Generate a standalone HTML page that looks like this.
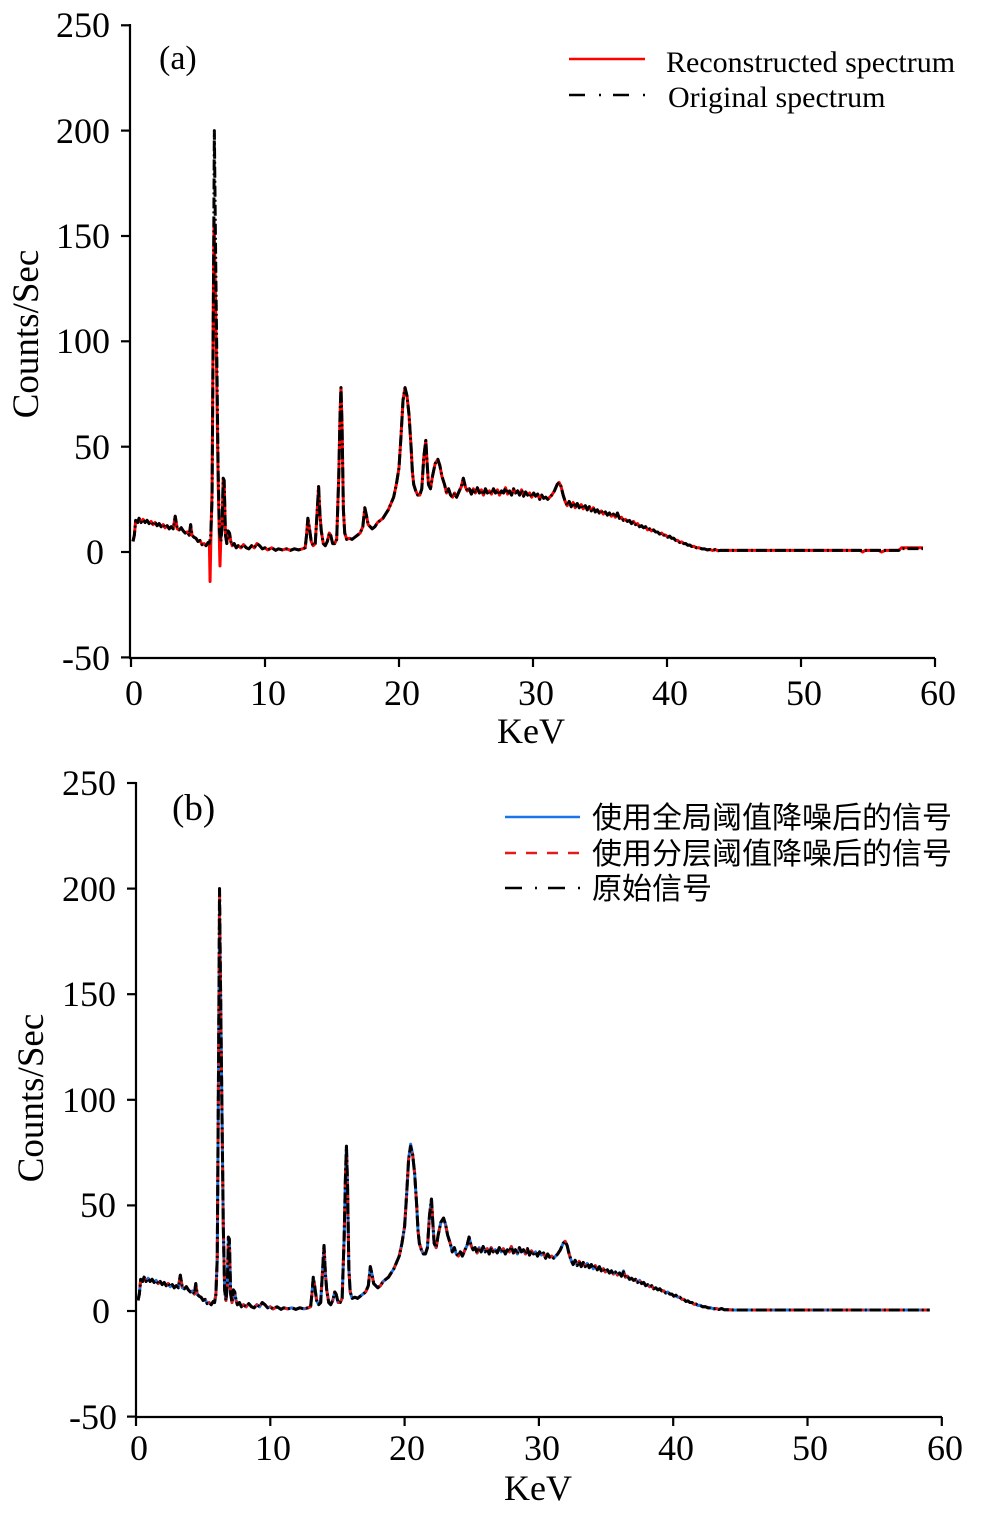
<!DOCTYPE html>
<html>
<head>
<meta charset="utf-8">
<style>
html,body{margin:0;padding:0;background:#fff;}
svg{display:block;}
text{font-family:"Liberation Serif","Noto Serif CJK SC",serif;fill:#000;}
.cjk{font-family:"Liberation Sans","Noto Sans CJK SC",sans-serif;}
.d{fill:none;vector-effect:non-scaling-stroke;stroke-linejoin:round;stroke-width:3;}
</style>
</head>
<body>
<svg width="1000" height="1520" viewBox="0 0 1000 1520" xmlns="http://www.w3.org/2000/svg">
<rect width="1000" height="1520" fill="#fff"/>

<!-- ================= Panel (a) ================= -->
<g stroke="#000" stroke-width="2.2" fill="none">
  <line x1="130" y1="24" x2="130" y2="658"/>
  <line x1="129" y1="658" x2="935" y2="658"/>
  <line x1="121" y1="25.3" x2="130" y2="25.3"/>
  <line x1="121" y1="130.6" x2="130" y2="130.6"/>
  <line x1="121" y1="236" x2="130" y2="236"/>
  <line x1="121" y1="341.3" x2="130" y2="341.3"/>
  <line x1="121" y1="446.7" x2="130" y2="446.7"/>
  <line x1="121" y1="552" x2="130" y2="552"/>
  <line x1="121" y1="657.4" x2="130" y2="657.4"/>
  <line x1="131" y1="658" x2="131" y2="667"/>
  <line x1="265" y1="658" x2="265" y2="667"/>
  <line x1="399" y1="658" x2="399" y2="667"/>
  <line x1="533" y1="658" x2="533" y2="667"/>
  <line x1="667" y1="658" x2="667" y2="667"/>
  <line x1="801" y1="658" x2="801" y2="667"/>
  <line x1="935" y1="658" x2="935" y2="667"/>
</g>
<g font-size="36" text-anchor="end">
  <text x="110" y="37">250</text>
  <text x="110" y="143">200</text>
  <text x="110" y="248">150</text>
  <text x="110" y="353">100</text>
  <text x="110" y="459">50</text>
  <text x="104" y="564">0</text>
  <text x="110" y="670">-50</text>
</g>
<g font-size="36" text-anchor="middle">
  <text x="134" y="705">0</text>
  <text x="268" y="705">10</text>
  <text x="402" y="705">20</text>
  <text x="536" y="705">30</text>
  <text x="670" y="705">40</text>
  <text x="804" y="705">50</text>
  <text x="938" y="705">60</text>
  <text x="531" y="743">KeV</text>
</g>
<text font-size="37" text-anchor="middle" transform="translate(38,334) rotate(-90)">Counts/Sec</text>
<text font-size="34" x="159" y="69">(a)</text>

<!-- legend a -->
<line x1="569" y1="59" x2="645" y2="59" stroke="#ff0000" stroke-width="2.6"/>
<line x1="569" y1="95" x2="645" y2="95" stroke="#000" stroke-width="2.6" stroke-dasharray="16 14 2 12"/>
<text font-size="30" x="666" y="72">Reconstructed spectrum</text>
<text font-size="30" x="668" y="107">Original spectrum</text>

<!-- data a -->
<g transform="translate(131,552) scale(13.4,-2.107)">
<polyline class="d" stroke="#ff0000" points="0.15,5 0.25,8 0.35,15 0.5,14 0.6,16 0.75,14 0.9,15.5 1.05,14 1.2,15 1.35,13.5 1.5,14.5 1.65,13 1.8,14 1.95,12.5 2.1,13.5 2.25,12 2.4,13 2.55,11.5 2.7,12.5 2.85,11 3,12 3.15,11 3.3,17 3.45,11 3.6,10.5 3.75,11.5 3.9,10 4.05,9 4.2,9.5 4.35,8 4.45,13 4.55,8 4.7,7 4.85,6.5 5,5 5.15,5.5 5.3,3.5 5.45,4 5.6,3 5.75,4.5 5.85,4 5.9,-14 5.96,6 6.05,30 6.13,110 6.2,158 6.28,130 6.38,90 6.5,35 6.6,4 6.64,-6.6 6.7,6 6.8,12 6.88,35 6.95,34 7.05,8 7.15,4 7.25,10 7.35,9 7.45,5 7.55,3 7.7,4 7.85,2 8,3 8.2,2 8.4,3.5 8.6,2 8.8,1.5 9,3 9.2,2 9.4,4 9.6,3 9.8,1.5 10,2 10.2,1 10.5,2 10.8,0.8 11,1.5 11.3,1 11.6,1.5 11.9,0.8 12.2,1.5 12.5,1 12.8,1.5 13,2 13.1,8 13.2,16 13.3,12 13.45,5 13.6,3 13.75,4 13.9,20 14,31 14.1,18 14.2,10 14.35,4 14.5,3 14.65,5 14.8,9 14.9,8 15.05,4 15.2,4 15.35,6 15.5,35 15.6,65 15.67,78 15.75,60 15.85,20 15.95,9 16.1,6 16.3,6.5 16.5,6 16.7,7 16.9,8 17.1,9 17.3,12 17.45,21 17.55,18 17.7,13 17.85,12 18,11 18.2,12 18.4,14 18.6,15 18.8,16 19,18 19.2,20 19.4,23 19.6,26 19.8,32 20,40 20.15,55 20.3,72 20.45,78 20.6,74 20.75,65 20.9,50 21,38 21.1,32 21.25,29 21.4,27 21.55,27 21.7,30 21.85,45 22,53 22.1,42 22.2,32 22.35,30 22.5,36 22.7,42 22.9,44 23.05,41 23.2,36 23.4,32 23.55,28 23.7,30 23.85,27 24,26 24.15,28 24.3,26 24.5,29 24.65,31 24.8,35 24.95,31 25.1,29 25.25,30 25.4,27.5 25.55,30 25.7,28 25.85,30.5 26,28 26.15,29.5 26.3,27 26.45,30 26.6,28 26.75,29 26.9,27.5 27.05,30 27.2,28 27.35,29.5 27.5,27 27.65,29 27.8,28 27.95,30.5 28.1,27.5 28.25,29 28.4,27 28.55,30 28.7,28 28.85,29 29,27 29.15,29.5 29.3,26.5 29.45,28.5 29.6,27 29.75,28 29.9,26 30.05,28 30.2,26.5 30.35,27.5 30.5,25 30.65,27 30.8,25.5 30.95,26 31.1,25 31.25,26 31.4,27 31.6,29 31.8,32 31.95,33 32.1,31 32.25,27 32.4,24 32.55,22 32.7,24 32.85,21.5 33,23.5 33.15,21 33.3,23 33.45,21 33.6,22.5 33.75,20.5 33.9,22 34.05,20 34.2,21.5 34.35,19.5 34.5,21 34.65,19 34.8,20 34.95,18.5 35.1,19.5 35.25,18 35.4,19 35.55,17.5 35.7,18.5 35.85,17 36,18 36.15,16.5 36.3,18.5 36.45,16 36.6,16.5 36.75,15 36.9,15.5 37.05,14.5 37.2,15 37.35,13.5 37.5,14.5 37.65,13 37.8,13.5 37.95,12 38.1,12.5 38.25,11.5 38.4,12 38.55,10.5 38.7,11 38.85,10 39,10.5 39.15,9.5 39.3,9.5 39.45,8.5 39.6,9 39.75,8 39.9,8 40.05,7 40.2,7.5 40.35,6.5 40.5,6.5 40.65,5.5 40.8,5.5 40.95,4.5 41.1,4.8 41.25,4 41.4,4 41.55,3.2 41.7,3.3 41.85,2.6 42,2.7 42.2,2 42.4,2 42.6,1.5 42.8,1.5 43,1 43.2,1.2 43.4,0.7 43.6,1.2 43.8,0.6 44,0.8 44.5,0.8 54.4,0.8 54.6,0 54.8,0.8 55.8,0.8 56,0 56.3,0.8 57.3,0.8 57.5,2 59.1,2"/>
<polyline class="d" stroke="#000" stroke-dasharray="11 3 2 3" points="0.15,5 0.25,8 0.35,15 0.5,14 0.6,16 0.75,14 0.9,15.5 1.05,14 1.2,15 1.35,13.5 1.5,14.5 1.65,13 1.8,14 1.95,12.5 2.1,13.5 2.25,12 2.4,13 2.55,11.5 2.7,12.5 2.85,11 3,12 3.15,11 3.3,17 3.45,11 3.6,10.5 3.75,11.5 3.9,10 4.05,9 4.2,9.5 4.35,8 4.45,13 4.55,8 4.7,7 4.85,6.5 5,5 5.15,5.5 5.3,3.5 5.45,4 5.6,3 5.75,4.5 5.85,4 5.95,8 6.05,25 6.15,120 6.22,200 6.3,150 6.4,95 6.5,40 6.6,10 6.7,5 6.8,12 6.88,35 6.95,34 7.05,8 7.15,4 7.25,10 7.35,9 7.45,5 7.55,3 7.7,4 7.85,2 8,3 8.2,2 8.4,3.5 8.6,2 8.8,1.5 9,3 9.2,2 9.4,4 9.6,3 9.8,1.5 10,2 10.2,1 10.5,2 10.8,0.8 11,1.5 11.3,1 11.6,1.5 11.9,0.8 12.2,1.5 12.5,1 12.8,1.5 13,2 13.1,8 13.2,16 13.3,12 13.45,5 13.6,3 13.75,4 13.9,20 14,31 14.1,18 14.2,10 14.35,4 14.5,3 14.65,5 14.8,9 14.9,8 15.05,4 15.2,4 15.35,6 15.5,35 15.6,65 15.67,78 15.75,60 15.85,20 15.95,9 16.1,6 16.3,6.5 16.5,6 16.7,7 16.9,8 17.1,9 17.3,12 17.45,21 17.55,18 17.7,13 17.85,12 18,11 18.2,12 18.4,14 18.6,15 18.8,16 19,18 19.2,20 19.4,23 19.6,26 19.8,32 20,40 20.15,55 20.3,72 20.45,78 20.6,74 20.75,65 20.9,50 21,38 21.1,32 21.25,29 21.4,27 21.55,27 21.7,30 21.85,45 22,53 22.1,42 22.2,32 22.35,30 22.5,36 22.7,42 22.9,44 23.05,41 23.2,36 23.4,32 23.55,28 23.7,30 23.85,27 24,26 24.15,28 24.3,26 24.5,29 24.65,31 24.8,35 24.95,31 25.1,29 25.25,30 25.4,27.5 25.55,30 25.7,28 25.85,30.5 26,28 26.15,29.5 26.3,27 26.45,30 26.6,28 26.75,29 26.9,27.5 27.05,30 27.2,28 27.35,29.5 27.5,27 27.65,29 27.8,28 27.95,30.5 28.1,27.5 28.25,29 28.4,27 28.55,30 28.7,28 28.85,29 29,27 29.15,29.5 29.3,26.5 29.45,28.5 29.6,27 29.75,28 29.9,26 30.05,28 30.2,26.5 30.35,27.5 30.5,25 30.65,27 30.8,25.5 30.95,26 31.1,25 31.25,26 31.4,27 31.6,29 31.8,32 31.95,33 32.1,31 32.25,27 32.4,24 32.55,22 32.7,24 32.85,21.5 33,23.5 33.15,21 33.3,23 33.45,21 33.6,22.5 33.75,20.5 33.9,22 34.05,20 34.2,21.5 34.35,19.5 34.5,21 34.65,19 34.8,20 34.95,18.5 35.1,19.5 35.25,18 35.4,19 35.55,17.5 35.7,18.5 35.85,17 36,18 36.15,16.5 36.3,18.5 36.45,16 36.6,16.5 36.75,15 36.9,15.5 37.05,14.5 37.2,15 37.35,13.5 37.5,14.5 37.65,13 37.8,13.5 37.95,12 38.1,12.5 38.25,11.5 38.4,12 38.55,10.5 38.7,11 38.85,10 39,10.5 39.15,9.5 39.3,9.5 39.45,8.5 39.6,9 39.75,8 39.9,8 40.05,7 40.2,7.5 40.35,6.5 40.5,6.5 40.65,5.5 40.8,5.5 40.95,4.5 41.1,4.8 41.25,4 41.4,4 41.55,3.2 41.7,3.3 41.85,2.6 42,2.7 42.2,2 42.4,2 42.6,1.5 42.8,1.5 43,1 43.2,1.2 43.4,0.7 43.6,1.2 43.8,0.6 44,0.8 44.5,0.8 57.3,0.8 57.5,1.6 59.1,1.6"/>
</g>

<!-- ================= Panel (b) ================= -->
<g stroke="#000" stroke-width="2.2" fill="none">
  <line x1="136" y1="782" x2="136" y2="1417"/>
  <line x1="135" y1="1417" x2="942" y2="1417"/>
  <line x1="127" y1="783" x2="136" y2="783"/>
  <line x1="127" y1="888.6" x2="136" y2="888.6"/>
  <line x1="127" y1="994.2" x2="136" y2="994.2"/>
  <line x1="127" y1="1099.8" x2="136" y2="1099.8"/>
  <line x1="127" y1="1205.4" x2="136" y2="1205.4"/>
  <line x1="127" y1="1311" x2="136" y2="1311"/>
  <line x1="127" y1="1416.6" x2="136" y2="1416.6"/>
  <line x1="136" y1="1417" x2="136" y2="1426"/>
  <line x1="270.3" y1="1417" x2="270.3" y2="1426"/>
  <line x1="404.6" y1="1417" x2="404.6" y2="1426"/>
  <line x1="538.9" y1="1417" x2="538.9" y2="1426"/>
  <line x1="673.2" y1="1417" x2="673.2" y2="1426"/>
  <line x1="807.5" y1="1417" x2="807.5" y2="1426"/>
  <line x1="941.8" y1="1417" x2="941.8" y2="1426"/>
</g>
<g font-size="36" text-anchor="end">
  <text x="116" y="795">250</text>
  <text x="116" y="901">200</text>
  <text x="116" y="1006">150</text>
  <text x="116" y="1112">100</text>
  <text x="116" y="1217">50</text>
  <text x="110" y="1323">0</text>
  <text x="117" y="1429">-50</text>
</g>
<g font-size="36" text-anchor="middle">
  <text x="139" y="1460">0</text>
  <text x="273" y="1460">10</text>
  <text x="407" y="1460">20</text>
  <text x="542" y="1460">30</text>
  <text x="676" y="1460">40</text>
  <text x="810" y="1460">50</text>
  <text x="945" y="1460">60</text>
  <text x="538" y="1500">KeV</text>
</g>
<text font-size="37" text-anchor="middle" transform="translate(43,1098) rotate(-90)">Counts/Sec</text>
<text font-size="37" x="172" y="820">(b)</text>

<!-- legend b -->
<line x1="505" y1="817" x2="580" y2="817" stroke="#1a75e8" stroke-width="2.6"/>
<line x1="505" y1="853" x2="580" y2="853" stroke="#e31a1c" stroke-width="2.6" stroke-dasharray="11 10"/>
<line x1="505" y1="888" x2="580" y2="888" stroke="#000" stroke-width="2.6" stroke-dasharray="17 13 2 11"/>
<text class="cjk" font-size="30" x="592" y="828">使用全局阈值降噪后的信号</text>
<text class="cjk" font-size="30" x="592" y="864">使用分层阈值降噪后的信号</text>
<text class="cjk" font-size="30" x="592" y="899">原始信号</text>

<!-- data b -->
<g transform="translate(136,1311) scale(13.43,-2.112)">
<polyline class="d" stroke="#1a75e8" points="0.15,5 0.25,8 0.35,15 0.5,14 0.6,16 0.75,14 0.9,15.5 1.05,14 1.2,15 1.35,13.5 1.5,14.5 1.65,13 1.8,14 1.95,12.5 2.1,13.5 2.25,12 2.4,13 2.55,11.5 2.7,12.5 2.85,11 3,12 3.15,11 3.3,17 3.45,11 3.6,10.5 3.75,11.5 3.9,10 4.05,9 4.2,9.5 4.35,8 4.45,13 4.55,8 4.7,7 4.85,6.5 5,5 5.15,5.5 5.3,3.5 5.45,4 5.6,3 5.75,4.5 5.85,4 5.95,8 6.05,25 6.15,120 6.22,185 6.3,150 6.4,95 6.5,40 6.6,10 6.7,5 6.8,12 6.88,35 6.95,34 7.05,8 7.15,4 7.25,10 7.35,9 7.45,5 7.55,3 7.7,4 7.85,2 8,3 8.2,2 8.4,3.5 8.6,2 8.8,1.5 9,3 9.2,2 9.4,4 9.6,3 9.8,1.5 10,2 10.2,1 10.5,2 10.8,0.8 11,1.5 11.3,1 11.6,1.5 11.9,0.8 12.2,1.5 12.5,1 12.8,1.5 13,2 13.1,8 13.2,16 13.3,12 13.45,5 13.6,3 13.75,4 13.9,20 14,31 14.1,18 14.2,10 14.35,4 14.5,3 14.65,5 14.8,9 14.9,8 15.05,4 15.2,4 15.35,6 15.5,35 15.6,65 15.67,78 15.75,60 15.85,20 15.95,9 16.1,6 16.3,6.5 16.5,6 16.7,7 16.9,8 17.1,9 17.3,12 17.45,21 17.55,18 17.7,13 17.85,12 18,11 18.2,12 18.4,14 18.6,15 18.8,16 19,18 19.2,20 19.4,23 19.6,26 19.8,32 20,40 20.15,55 20.3,72 20.45,79 20.6,74 20.75,65 20.9,50 21,38 21.1,32 21.25,29 21.4,27 21.55,27 21.7,30 21.85,45 22,53 22.1,42 22.2,32 22.35,30 22.5,36 22.7,42 22.9,44 23.05,41 23.2,36 23.4,32 23.55,28 23.7,30 23.85,27 24,26 24.15,28 24.3,26 24.5,29 24.65,31 24.8,35 24.95,31 25.1,29 25.25,30 25.4,27.5 25.55,30 25.7,28 25.85,30.5 26,28 26.15,29.5 26.3,27 26.45,30 26.6,28 26.75,29 26.9,27.5 27.05,30 27.2,28 27.35,29.5 27.5,27 27.65,29 27.8,28 27.95,30.5 28.1,27.5 28.25,29 28.4,27 28.55,30 28.7,28 28.85,29 29,27 29.15,29.5 29.3,26.5 29.45,28.5 29.6,27 29.75,28 29.9,26 30.05,28 30.2,26.5 30.35,27.5 30.5,25 30.65,27 30.8,25.5 30.95,26 31.1,25 31.25,26 31.4,27 31.6,29 31.8,32 31.95,33 32.1,31 32.25,27 32.4,24 32.55,22 32.7,24 32.85,21.5 33,23.5 33.15,21 33.3,23 33.45,21 33.6,22.5 33.75,20.5 33.9,22 34.05,20 34.2,21.5 34.35,19.5 34.5,21 34.65,19 34.8,20 34.95,18.5 35.1,19.5 35.25,18 35.4,19 35.55,17.5 35.7,18.5 35.85,17 36,18 36.15,16.5 36.3,19 36.45,16 36.6,16.5 36.75,15 36.9,15.5 37.05,14.5 37.2,15 37.35,13.5 37.5,14.5 37.65,13 37.8,13.5 37.95,12 38.1,12.5 38.25,11.5 38.4,12 38.55,10.5 38.7,11 38.85,10 39,10.5 39.15,9.5 39.3,9.5 39.45,8.5 39.6,9 39.75,8 39.9,8 40.05,7 40.2,7.5 40.35,6.5 40.5,6.5 40.65,5.5 40.8,5.5 40.95,4.5 41.1,4.8 41.25,4 41.4,4 41.55,3.2 41.7,3.3 41.85,2.6 42,2.7 42.2,2 42.4,2 42.6,1.5 42.8,1.5 43,1 43.2,1.2 43.4,0.7 43.6,1.2 43.8,0.6 44,0.6 44.5,0.5 59.1,0.5"/>
<polyline class="d" stroke="#e31a1c" stroke-dasharray="8 5" points="0.15,5 0.25,8 0.35,15 0.5,14 0.6,16 0.75,14 0.9,15.5 1.05,14 1.2,15 1.35,13.5 1.5,14.5 1.65,13 1.8,14 1.95,12.5 2.1,13.5 2.25,12 2.4,13 2.55,11.5 2.7,12.5 2.85,11 3,12 3.15,11 3.3,17 3.45,11 3.6,10.5 3.75,11.5 3.9,10 4.05,9 4.2,9.5 4.35,8 4.45,13 4.55,8 4.7,7 4.85,6.5 5,5 5.15,5.5 5.3,3.5 5.45,4 5.6,3 5.75,4.5 5.85,4 5.95,8 6.05,25 6.15,120 6.22,200 6.3,150 6.4,95 6.5,40 6.6,10 6.7,5 6.8,12 6.88,35 6.95,34 7.05,8 7.15,4 7.25,10 7.35,9 7.45,5 7.55,3 7.7,4 7.85,2 8,3 8.2,2 8.4,3.5 8.6,2 8.8,1.5 9,3 9.2,2 9.4,4 9.6,3 9.8,1.5 10,2 10.2,1 10.5,2 10.8,0.8 11,1.5 11.3,1 11.6,1.5 11.9,0.8 12.2,1.5 12.5,1 12.8,1.5 13,2 13.1,8 13.2,16 13.3,12 13.45,5 13.6,3 13.75,4 13.9,20 14,31 14.1,18 14.2,10 14.35,4 14.5,3 14.65,5 14.8,9 14.9,8 15.05,4 15.2,4 15.35,6 15.5,35 15.6,65 15.67,78 15.75,60 15.85,20 15.95,9 16.1,6 16.3,6.5 16.5,6 16.7,7 16.9,8 17.1,9 17.3,12 17.45,21 17.55,18 17.7,13 17.85,12 18,11 18.2,12 18.4,14 18.6,15 18.8,16 19,18 19.2,20 19.4,23 19.6,26 19.8,32 20,40 20.15,55 20.3,72 20.45,78 20.6,74 20.75,65 20.9,50 21,38 21.1,32 21.25,29 21.4,27 21.55,27 21.7,30 21.85,45 22,53 22.1,42 22.2,32 22.35,30 22.5,36 22.7,42 22.9,44 23.05,41 23.2,36 23.4,32 23.55,28 23.7,30 23.85,27 24,26 24.15,28 24.3,26 24.5,29 24.65,31 24.8,35 24.95,31 25.1,29 25.25,30 25.4,27.5 25.55,30 25.7,28 25.85,30.5 26,28 26.15,29.5 26.3,27 26.45,30 26.6,28 26.75,29 26.9,27.5 27.05,30 27.2,28 27.35,29.5 27.5,27 27.65,29 27.8,28 27.95,30.5 28.1,27.5 28.25,29 28.4,27 28.55,30 28.7,28 28.85,29 29,27 29.15,29.5 29.3,26.5 29.45,28.5 29.6,27 29.75,28 29.9,26 30.05,28 30.2,26.5 30.35,27.5 30.5,25 30.65,27 30.8,25.5 30.95,26 31.1,25 31.25,26 31.4,27 31.6,29 31.8,32 31.95,33 32.1,31 32.25,27 32.4,24 32.55,22 32.7,24 32.85,21.5 33,23.5 33.15,21 33.3,23 33.45,21 33.6,22.5 33.75,20.5 33.9,22 34.05,20 34.2,21.5 34.35,19.5 34.5,21 34.65,19 34.8,20 34.95,18.5 35.1,19.5 35.25,18 35.4,19 35.55,17.5 35.7,18.5 35.85,17 36,18 36.15,16.5 36.3,18.5 36.45,16 36.6,16.5 36.75,15 36.9,15.5 37.05,14.5 37.2,15 37.35,13.5 37.5,14.5 37.65,13 37.8,13.5 37.95,12 38.1,12.5 38.25,11.5 38.4,12 38.55,10.5 38.7,11 38.85,10 39,10.5 39.15,9.5 39.3,9.5 39.45,8.5 39.6,9 39.75,8 39.9,8 40.05,7 40.2,7.5 40.35,6.5 40.5,6.5 40.65,5.5 40.8,5.5 40.95,4.5 41.1,4.8 41.25,4 41.4,4 41.55,3.2 41.7,3.3 41.85,2.6 42,2.7 42.2,2 42.4,2 42.6,1.5 42.8,1.5 43,1 43.2,1.2 43.4,0.7 43.6,1.2 43.8,0.6 44,0.6 44.5,0.5 59.1,0.5"/>
<polyline class="d" stroke="#000" stroke-dasharray="11 3 2 3" points="0.15,5 0.25,8 0.35,15 0.5,14 0.6,16 0.75,14 0.9,15.5 1.05,14 1.2,15 1.35,13.5 1.5,14.5 1.65,13 1.8,14 1.95,12.5 2.1,13.5 2.25,12 2.4,13 2.55,11.5 2.7,12.5 2.85,11 3,12 3.15,11 3.3,17 3.45,11 3.6,10.5 3.75,11.5 3.9,10 4.05,9 4.2,9.5 4.35,8 4.45,13 4.55,8 4.7,7 4.85,6.5 5,5 5.15,5.5 5.3,3.5 5.45,4 5.6,3 5.75,4.5 5.85,4 5.95,8 6.05,25 6.15,120 6.22,200 6.3,150 6.4,95 6.5,40 6.6,10 6.7,5 6.8,12 6.88,35 6.95,34 7.05,8 7.15,4 7.25,10 7.35,9 7.45,5 7.55,3 7.7,4 7.85,2 8,3 8.2,2 8.4,3.5 8.6,2 8.8,1.5 9,3 9.2,2 9.4,4 9.6,3 9.8,1.5 10,2 10.2,1 10.5,2 10.8,0.8 11,1.5 11.3,1 11.6,1.5 11.9,0.8 12.2,1.5 12.5,1 12.8,1.5 13,2 13.1,8 13.2,16 13.3,12 13.45,5 13.6,3 13.75,4 13.9,20 14,31 14.1,18 14.2,10 14.35,4 14.5,3 14.65,5 14.8,9 14.9,8 15.05,4 15.2,4 15.35,6 15.5,35 15.6,65 15.67,78 15.75,60 15.85,20 15.95,9 16.1,6 16.3,6.5 16.5,6 16.7,7 16.9,8 17.1,9 17.3,12 17.45,21 17.55,18 17.7,13 17.85,12 18,11 18.2,12 18.4,14 18.6,15 18.8,16 19,18 19.2,20 19.4,23 19.6,26 19.8,32 20,40 20.15,55 20.3,72 20.45,78 20.6,74 20.75,65 20.9,50 21,38 21.1,32 21.25,29 21.4,27 21.55,27 21.7,30 21.85,45 22,53 22.1,42 22.2,32 22.35,30 22.5,36 22.7,42 22.9,44 23.05,41 23.2,36 23.4,32 23.55,28 23.7,30 23.85,27 24,26 24.15,28 24.3,26 24.5,29 24.65,31 24.8,35 24.95,31 25.1,29 25.25,30 25.4,27.5 25.55,30 25.7,28 25.85,30.5 26,28 26.15,29.5 26.3,27 26.45,30 26.6,28 26.75,29 26.9,27.5 27.05,30 27.2,28 27.35,29.5 27.5,27 27.65,29 27.8,28 27.95,30.5 28.1,27.5 28.25,29 28.4,27 28.55,30 28.7,28 28.85,29 29,27 29.15,29.5 29.3,26.5 29.45,28.5 29.6,27 29.75,28 29.9,26 30.05,28 30.2,26.5 30.35,27.5 30.5,25 30.65,27 30.8,25.5 30.95,26 31.1,25 31.25,26 31.4,27 31.6,29 31.8,32 31.95,33 32.1,31 32.25,27 32.4,24 32.55,22 32.7,24 32.85,21.5 33,23.5 33.15,21 33.3,23 33.45,21 33.6,22.5 33.75,20.5 33.9,22 34.05,20 34.2,21.5 34.35,19.5 34.5,21 34.65,19 34.8,20 34.95,18.5 35.1,19.5 35.25,18 35.4,19 35.55,17.5 35.7,18.5 35.85,17 36,18 36.15,16.5 36.3,18.5 36.45,16 36.6,16.5 36.75,15 36.9,15.5 37.05,14.5 37.2,15 37.35,13.5 37.5,14.5 37.65,13 37.8,13.5 37.95,12 38.1,12.5 38.25,11.5 38.4,12 38.55,10.5 38.7,11 38.85,10 39,10.5 39.15,9.5 39.3,9.5 39.45,8.5 39.6,9 39.75,8 39.9,8 40.05,7 40.2,7.5 40.35,6.5 40.5,6.5 40.65,5.5 40.8,5.5 40.95,4.5 41.1,4.8 41.25,4 41.4,4 41.55,3.2 41.7,3.3 41.85,2.6 42,2.7 42.2,2 42.4,2 42.6,1.5 42.8,1.5 43,1 43.2,1.2 43.4,0.7 43.6,1.2 43.8,0.6 44,0.6 44.5,0.5 59.1,0.5"/>
</g>
</svg>
</body>
</html>
